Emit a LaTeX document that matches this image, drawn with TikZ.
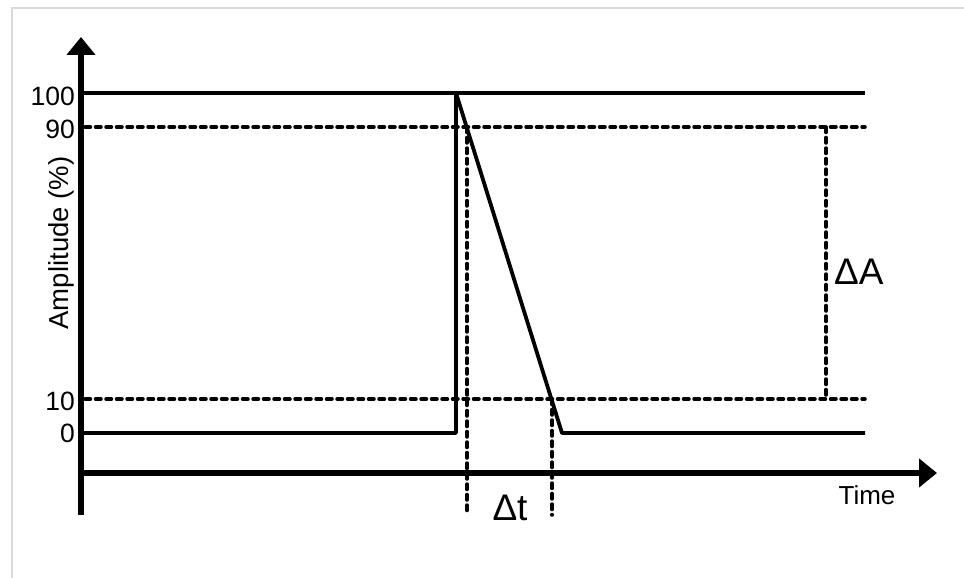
\documentclass[tikz,border=0pt]{standalone}
\usepackage{fontspec}
\setmainfont{Liberation Sans}
\usetikzlibrary{arrows.meta}
\begin{document}
\begin{tikzpicture}[x=1pt,y=-1pt,
  axisline/.style={line width=6.5pt,-{Triangle[length=18pt,width=28pt]}},
  sigline/.style={line width=3.8pt,line join=round},
  dashline/.style={line width=3.5pt,dash pattern=on 5.5pt off 5pt,line cap=round},
  ticklbl/.style={anchor=east,inner sep=0pt,font=\fontsize{26.5}{30}\selectfont},
  biglbl/.style={inner sep=0pt,font=\fontsize{37}{44}\selectfont}]
\useasboundingbox (0,0) rectangle (964,578);
% frame
\draw[line width=2pt,color={rgb,255:red,217;green,217;blue,217}] (12,578) -- (12,8) -- (964,8);
% coordinates
\coordinate (yb) at (81,515);
\coordinate (yt) at (81,37);
\coordinate (xl) at (78,473);
\coordinate (xr) at (937,473);
\coordinate (h100l) at (83,93);  \coordinate (h100r) at (865,93);
\coordinate (h90l) at (85,127);  \coordinate (h90r) at (865,127);
\coordinate (h10l) at (85,399);  \coordinate (h10r) at (865,399);
\coordinate (h0l) at (83,433);
\coordinate (rise0) at (456,433);
\coordinate (rise100) at (456,93);
\coordinate (fall0) at (562,433);
\coordinate (h0r) at (865,433);
\coordinate (t1top) at (467,127); \coordinate (t1bot) at (467,515);
\coordinate (t2top) at (552,399); \coordinate (t2bot) at (552,515);
\coordinate (atop) at (826,127); \coordinate (abot) at (826,399);
% axes
\draw[axisline] (yb) -- (yt);
\draw[axisline] (xl) -- (xr);
% reference levels
\draw[sigline] (h100l) -- (h100r);
\draw[dashline] (h90l) -- (h90r);
\draw[dashline] (h10l) -- (h10r);
% signal
\draw[sigline] (h0l) -- (rise0) -- (rise100) -- (fall0) -- (h0r);
% markers
\draw[dashline] (t1top) -- (t1bot);
\draw[dashline] (t2top) -- (t2bot);
\draw[dashline] (atop) -- (abot);
% labels
\node[ticklbl] (l100) at (75,96) {100};
\node[ticklbl] (l90) at (75,129) {90};
\node[ticklbl] (l10) at (75,401) {10};
\node[ticklbl] (l0) at (75,433) {0};
\node[rotate=90,inner sep=0pt,font=\fontsize{27.5}{32}\selectfont] (amp) at (61,243) {Amplitude (\%)};
\node[inner sep=0pt,font=\fontsize{26}{30}\selectfont] (time) at (867,495) {Time};
\node[biglbl,anchor=west] (dA) at (834,272) {ΔA};
\node[biglbl] (dt) at (510,508) {Δt};
\end{tikzpicture}
\end{document}
